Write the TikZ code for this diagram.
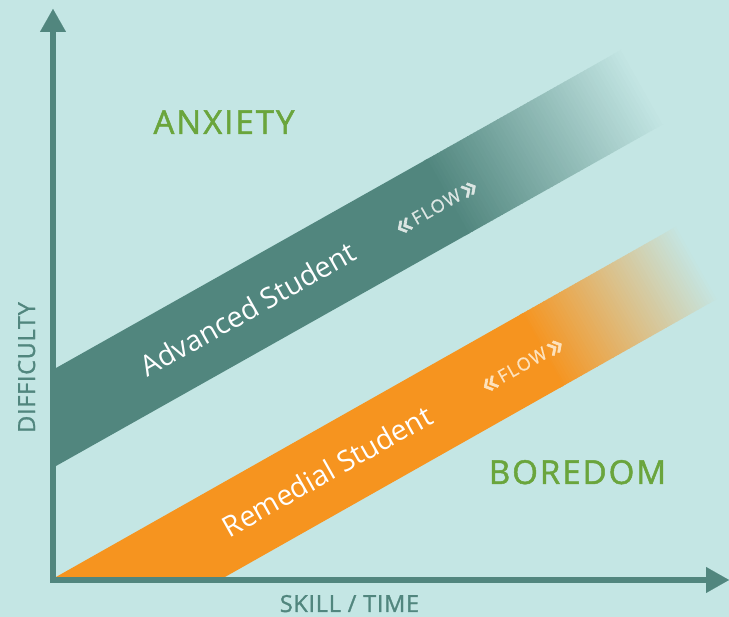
\documentclass[tikz,border=0pt]{standalone}
\usepackage{fontspec}
\setmainfont{Open Sans}
\newfontfamily\hfont[LetterSpace=6,FakeBold=1.5]{Open Sans}
\newfontfamily\afont[LetterSpace=3,FakeBold=1.2]{Open Sans}
\newfontfamily\ffont[LetterSpace=8,FakeBold=0.5]{Open Sans}
\newfontfamily\chevfont[FakeBold=2]{Open Sans}
\newcommand{\chl}{\raisebox{-3pt}{\chevfont\fontsize{32}{32}\selectfont «}}
\newcommand{\chr}{\raisebox{-3pt}{\chevfont\fontsize{32}{32}\selectfont »}}
\usetikzlibrary{arrows.meta}
\definecolor{bgc}{HTML}{C4E6E4}
\definecolor{dteal}{HTML}{51867E}
\definecolor{orng}{HTML}{F6941F}
\definecolor{grn}{HTML}{6AA53C}
\definecolor{flowA}{HTML}{DCE6E3}
\definecolor{flowB}{HTML}{FDE2BD}
\tikzset{
  zonelabel/.style={text=grn, inner sep=0pt, font=\hfont\fontsize{33}{33}\selectfont},
  axislabel/.style={text=dteal, inner sep=0pt, font=\afont\fontsize{23.5}{24}\selectfont},
  bandlabel/.style={text=white, inner sep=0pt, rotate=29.4, font=\fontsize{28.5}{28.5}\selectfont},
  flowlabel/.style={inner sep=0pt, rotate=29.4, font=\ffont\fontsize{18}{18}\selectfont},
  axisline/.style={draw=dteal, line width=6pt, line join=miter,
    {Triangle[width=26pt,length=23pt,line width=0.1pt]}-{Triangle[width=26pt,length=23pt,line width=0.1pt]}}
}
\begin{document}
\begin{tikzpicture}[x=1pt,y=1pt]
\useasboundingbox (0,0) rectangle (729,617);
\fill[bgc] (0,0) rectangle (729,617);
% advanced student band
\begin{scope}
\clip (50,245.6) -- (760,645.3) -- (760,547.3) -- (50,147.6) -- cycle;
\begin{scope}[shift={(56,151)}, rotate=29.4]
\foreach \i in {0,...,59}{
  \pgfmathsetmacro\p{100-100*\i/59}
  \fill[dteal!\p!bgc] ({470+\i*230/60},-100) rectangle ++(4.6,300);
}
\fill[dteal] (-300,-100) rectangle (474,200);
\end{scope}
\end{scope}
% remedial student band
\begin{scope}
\clip (56,40) -- (225,40) -- (760,342.3) -- (760,437.8) -- cycle;
\begin{scope}[shift={(56,-55.5)}, rotate=29.4]
\foreach \i in {0,...,59}{
  \pgfmathsetmacro\p{100-100*\i/59}
  \fill[orng!\p!bgc] ({579+\i*183/60},-100) rectangle ++(3.8,300);
}
\fill[orng] (-300,-100) rectangle (583,200);
\end{scope}
\end{scope}
% labels
\node[zonelabel, anchor=base] (anx) at (224,483) {ANXIETY};
\node[zonelabel, anchor=base] (bor) at (577.5,133) {BOREDOM};
\node[bandlabel] (adv) at (248,308) {Advanced Student};
\node[bandlabel] (rem) at (327,146) {Remedial Student};
\node[flowlabel, text=flowA] (flowa) at (437,409) {\chl\,FLOW\,\chr};
\node[flowlabel, text=flowB] (flowb) at (523,251) {\chl\,FLOW\,\chr};
\node[axislabel, anchor=base, rotate=90] (ylab) at (35,249.5) {DIFFICULTY};
\node[axislabel, anchor=base] (xlab) at (349.5,5) {SKILL / TIME};
% axes
\coordinate (ytip) at (53,608);
\coordinate (origin) at (53,37);
\coordinate (xtip) at (729,37);
\draw[axisline] (ytip) -- (origin) -- (xtip);
\end{tikzpicture}
\end{document}
